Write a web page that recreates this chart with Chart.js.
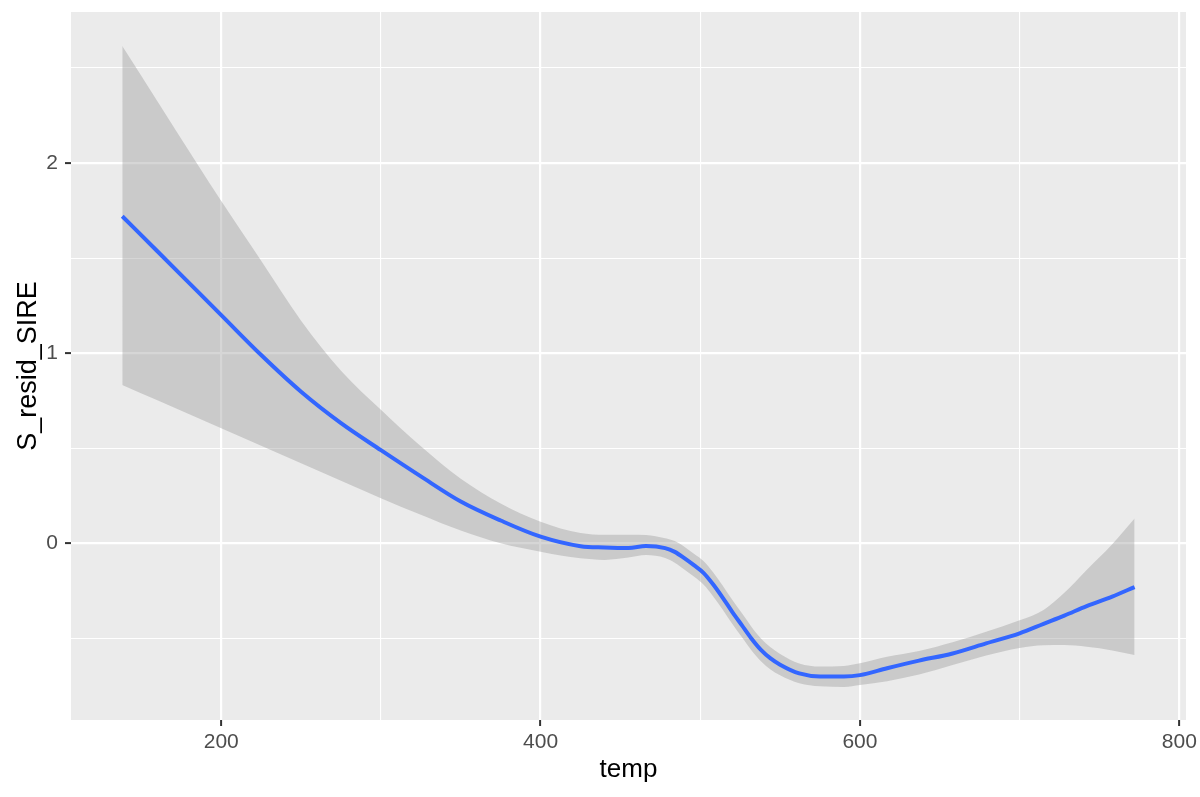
<!DOCTYPE html>
<html>
<head>
<meta charset="utf-8">
<script src="https://cdn.jsdelivr.net/npm/chart.js@4"></script>
<style>
  html, body { margin: 0; padding: 0; background: #FFFFFF; }
  #wrap { width: 1200px; height: 797px; }
</style>
</head>
<body>
<div id="wrap"><canvas id="c" width="1200" height="797"></canvas></div>
<script>
// ---- data ----
const temp = [138, 160, 185, 200, 225, 250, 275, 300, 325, 350, 375, 400, 425, 440, 455, 466, 478, 484, 490, 496, 502, 508, 514, 520, 526, 532, 538, 544, 550, 562, 575, 590, 600, 617, 637, 658, 679, 700, 715, 728, 742, 758, 772];
const fitValues = [1.72, 1.536, 1.326, 1.20, 0.99, 0.797, 0.632, 0.49, 0.352, 0.22, 0.12, 0.035, -0.015, -0.022, -0.025, -0.014, -0.025, -0.045, -0.078, -0.115, -0.155, -0.215, -0.285, -0.36, -0.43, -0.50, -0.56, -0.605, -0.638, -0.684, -0.70, -0.70, -0.693, -0.657, -0.617, -0.579, -0.526, -0.473, -0.423, -0.38, -0.33, -0.28, -0.23];
const upperValues = [2.615, 2.325, 1.995, 1.80, 1.486, 1.171, 0.908, 0.702, 0.51, 0.34, 0.21, 0.114, 0.054, 0.045, 0.045, 0.044, 0.027, 0.012, -0.018, -0.055, -0.093, -0.152, -0.222, -0.297, -0.367, -0.438, -0.50, -0.547, -0.582, -0.632, -0.648, -0.645, -0.631, -0.596, -0.566, -0.52, -0.465, -0.405, -0.35, -0.26, -0.14, -0.005, 0.13];
const lowerValues = [0.833, 0.752, 0.661, 0.605, 0.513, 0.421, 0.329, 0.237, 0.15, 0.067, 0.0, -0.044, -0.079, -0.087, -0.075, -0.062, -0.077, -0.102, -0.138, -0.175, -0.217, -0.278, -0.348, -0.423, -0.493, -0.562, -0.62, -0.663, -0.694, -0.736, -0.752, -0.755, -0.745, -0.725, -0.69, -0.64, -0.59, -0.55, -0.536, -0.535, -0.544, -0.563, -0.587];
const xMajorTicks = [200, 400, 600, 800];
const xMinorTicks = [300, 500, 700];
const yMajorTicks = [0, 1, 2];
const yMinorTicks = [-0.5, 0.5, 1.5, 2.5];
const xTitle = 'temp';
const yTitle = 'S_resid_SIRE';

const toPts = (ys) => temp.map((x, i) => ({ x: x, y: ys[i] }));

const panelBg = {
  id: 'panelBg',
  beforeDraw(chart) {
    const { ctx, chartArea: a } = chart;
    ctx.save();
    ctx.fillStyle = '#EBEBEB';
    ctx.fillRect(a.left, a.top, a.right - a.left, a.bottom - a.top);
    ctx.restore();
  }
};

const isMajor = (list, v) => list.some(m => Math.abs(m - v) < 1e-9);
const FONT = 'Liberation Sans, Arial, sans-serif';

new Chart(document.getElementById('c'), {
  type: 'line',
  data: {
    datasets: [
      {
        label: 'fit',
        data: toPts(fitValues),
        borderColor: '#3366FF',
        borderWidth: 4,
        pointRadius: 0,
        fill: false,
        cubicInterpolationMode: 'monotone'
      },
      {
        label: 'upper',
        data: toPts(upperValues),
        borderWidth: 0,
        borderColor: 'rgba(0,0,0,0)',
        backgroundColor: 'rgba(153,153,153,0.4)',
        pointRadius: 0,
        fill: '+1',
        cubicInterpolationMode: 'monotone'
      },
      {
        label: 'lower',
        data: toPts(lowerValues),
        borderWidth: 0,
        borderColor: 'rgba(0,0,0,0)',
        pointRadius: 0,
        fill: false,
        cubicInterpolationMode: 'monotone'
      }
    ]
  },
  options: {
    responsive: false,
    animation: false,
    events: [],
    layout: { padding: { left: 0, top: 12, right: 14, bottom: 0 } },
    plugins: { legend: { display: false }, tooltip: { enabled: false }, title: { display: false } },
    scales: {
      x: {
        type: 'linear',
        min: 105.9,
        max: 804.2,
        afterBuildTicks(scale) {
          scale.ticks = xMajorTicks.concat(xMinorTicks).sort((a, b) => a - b).map(v => ({ value: v }));
        },
        afterFit(scale) { scale.height = 77; scale.paddingLeft = 0; scale.paddingRight = 0; },
        border: { display: false },
        grid: {
          color: '#FFFFFF',
          lineWidth: (c) => isMajor(xMajorTicks, c.tick.value) ? 2.2 : 1.1,
          drawTicks: true,
          tickLength: 6,
          tickWidth: 2,
          tickColor: (c) => isMajor(xMajorTicks, c.tick.value) ? '#333333' : 'rgba(0,0,0,0)'
        },
        ticks: {
          autoSkip: false,
          maxRotation: 0,
          padding: 4,
          color: '#4D4D4D',
          font: { family: FONT, size: 21 },
          callback: (v) => isMajor(xMajorTicks, v) ? String(v) : ''
        },
        title: {
          display: true,
          text: xTitle,
          color: '#000000',
          font: { family: FONT, size: 26 },
          padding: { top: 0, bottom: 12 }
        }
      },
      y: {
        type: 'linear',
        min: -0.929,
        max: 2.794,
        afterBuildTicks(scale) {
          scale.ticks = yMajorTicks.concat(yMinorTicks).sort((a, b) => a - b).map(v => ({ value: v }));
        },
        afterFit(scale) { scale.width = 71; scale.paddingTop = 0; scale.paddingBottom = 0; },
        border: { display: false },
        grid: {
          color: '#FFFFFF',
          lineWidth: (c) => isMajor(yMajorTicks, c.tick.value) ? 2.2 : 1.1,
          drawTicks: true,
          tickLength: 6,
          tickWidth: 2,
          tickColor: (c) => isMajor(yMajorTicks, c.tick.value) ? '#333333' : 'rgba(0,0,0,0)'
        },
        ticks: {
          autoSkip: false,
          padding: 7,
          color: '#4D4D4D',
          font: { family: FONT, size: 21 },
          callback: (v) => isMajor(yMajorTicks, v) ? String(v) : ''
        },
        title: {
          display: true,
          text: yTitle,
          color: '#000000',
          font: { family: FONT, size: 27 },
          padding: { top: 12, bottom: 0 }
        }
      }
    }
  },
  plugins: [panelBg]
});
</script>
</body>
</html>
